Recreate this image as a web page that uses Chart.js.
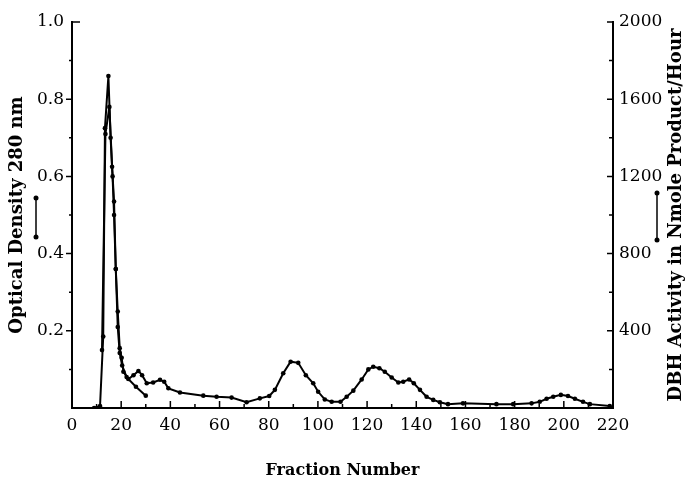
<!DOCTYPE html>
<html lang="en">
<head>
    <meta charset="UTF-8">
    <title>Fraction elution profile</title>
    <script src="https://cdn.jsdelivr.net/npm/chart.js"></script>
    <style>
        html, body { margin: 0; padding: 0; background: #fff; }
        canvas { display: block; }
    </style>
</head>
<body>
    <canvas id="elutionChart" width="687" height="488"></canvas>

    <script>
        // Optical density at 280 nm (long trace)
        const odFractions = [9, 11.4, 12.7, 13.4, 14.8, 15.7, 16.5, 17.1, 17.8, 18.6, 19.4, 20.2, 20.9, 22.9, 25, 27, 28.5, 30.4, 33, 35.8, 37.5, 39.2, 43.9, 53.4, 58.8, 64.9, 71, 76.4, 80.2, 82.5, 85.9, 88.9, 92, 95.1, 98.1, 100.1, 102.8, 105.6, 109.2, 111.7, 114.4, 117.8, 120.5, 122.5, 125, 127.2, 130, 132.7, 134.7, 137.1, 139, 141.5, 144.2, 146.9, 149.6, 152.9, 159, 172.6, 179.4, 186.9, 190.2, 193, 195.7, 198.8, 201.7, 204.5, 207.8, 210.6, 218.7];
        const odValues = [0, 0.005, 0.185, 0.725, 0.86, 0.70, 0.60, 0.50, 0.36, 0.25, 0.155, 0.13, 0.094, 0.075, 0.085, 0.096, 0.085, 0.064, 0.066, 0.073, 0.068, 0.051, 0.04, 0.032, 0.029, 0.027, 0.015, 0.025, 0.031, 0.047, 0.09, 0.12, 0.117, 0.085, 0.064, 0.042, 0.022, 0.016, 0.016, 0.029, 0.045, 0.074, 0.1, 0.107, 0.103, 0.094, 0.079, 0.066, 0.068, 0.074, 0.064, 0.047, 0.029, 0.021, 0.015, 0.01, 0.012, 0.01, 0.01, 0.012, 0.016, 0.024, 0.029, 0.034, 0.031, 0.024, 0.016, 0.01, 0.005];

        // DBH activity, nmole product / hour (short trace)
        const dbhFractions = [12.2, 13.6, 15.2, 16.3, 17.1, 17.8, 18.6, 19.4, 20.4, 22.2, 26.0, 30.0];
        const dbhValues = [300, 1420, 1560, 1250, 1070, 720, 420, 285, 220, 160, 110, 64];

        const xTicks = [0, 20, 40, 60, 80, 100, 120, 140, 160, 180, 200, 220];
        const odTicks = [0.2, 0.4, 0.6, 0.8, 1.0];
        const dbhTicks = [400, 800, 1200, 1600, 2000];

        const serif = "'DejaVu Serif', 'Liberation Serif', serif";

        // small tick marks, legend glyphs next to the axis titles, right title
        const decorPlugin = {
            id: 'decor',
            afterDraw(chart) {
                const { ctx, chartArea, scales } = chart;
                const { x, y, y2 } = scales;
                ctx.save();
                ctx.strokeStyle = '#000';
                ctx.fillStyle = '#000';
                ctx.lineWidth = 1.5;

                ctx.beginPath();
                for (let v = 10; v < 220; v += 10) {
                    const px = x.getPixelForValue(v);
                    const len = v % 20 === 0 ? 7 : 4;
                    ctx.moveTo(px, chartArea.bottom);
                    ctx.lineTo(px, chartArea.bottom - len);
                }
                for (let i = 1; i < 10; i++) {
                    const py = y.getPixelForValue(i / 10);
                    const len = i % 2 === 0 ? 6 : 3;
                    ctx.moveTo(chartArea.left - len, py);
                    ctx.lineTo(chartArea.left, py);
                }
                const topPx = y.getPixelForValue(1.0);
                ctx.moveTo(chartArea.left, topPx);
                ctx.lineTo(chartArea.left + 8, topPx);
                for (let v = 200; v <= 2000; v += 200) {
                    const py = y2.getPixelForValue(v);
                    const len = v % 400 === 0 ? 6 : 4;
                    ctx.moveTo(chartArea.right - len, py);
                    ctx.lineTo(chartArea.right, py);
                }
                ctx.stroke();

                // legend glyphs: a short line with a dot at each end
                const glyph = (gx, gy1, gy2) => {
                    ctx.beginPath();
                    ctx.moveTo(gx, gy1);
                    ctx.lineTo(gx, gy2);
                    ctx.stroke();
                    [gy1, gy2].forEach(gy => {
                        ctx.beginPath();
                        ctx.arc(gx, gy, 2.5, 0, Math.PI * 2);
                        ctx.fill();
                    });
                };
                glyph(36, 198, 237);
                glyph(657, 193, 240);

                // right axis title reads bottom to top like the left one
                ctx.font = "bold 18px " + serif;
                ctx.textAlign = 'center';
                ctx.textBaseline = 'middle';
                ctx.translate(676, (chartArea.top + chartArea.bottom) / 2);
                ctx.rotate(-Math.PI / 2);
                ctx.fillText('DBH Activity in Nmole Product/Hour', 0, 0);
                ctx.restore();
            }
        };

        const axisBorder = { display: true, color: '#000', width: 2 };
        const noGrid = { drawOnChartArea: false, drawTicks: false, color: 'transparent' };

        new Chart(document.getElementById('elutionChart'), {
            type: 'line',
            data: {
                datasets: [
                    {
                        label: 'Optical Density 280 nm',
                        data: odFractions.map((f, i) => ({ x: f, y: odValues[i] })),
                        yAxisID: 'y',
                        borderColor: '#000',
                        backgroundColor: '#000',
                        borderWidth: 2,
                        pointRadius: 2.3,
                        pointBorderWidth: 0,
                        tension: 0
                    },
                    {
                        label: 'DBH Activity',
                        data: dbhFractions.map((f, i) => ({ x: f, y: dbhValues[i] })),
                        yAxisID: 'y2',
                        borderColor: '#000',
                        backgroundColor: '#000',
                        borderWidth: 2,
                        pointRadius: 2.3,
                        pointBorderWidth: 0,
                        tension: 0
                    }
                ]
            },
            options: {
                responsive: false,
                animation: false,
                devicePixelRatio: 1,
                layout: { padding: { top: 22, right: 0, bottom: 0, left: 0 } },
                plugins: {
                    legend: { display: false },
                    tooltip: { enabled: false }
                },
                scales: {
                    x: {
                        type: 'linear',
                        min: 0,
                        max: 220,
                        afterFit: s => { s.height = 80; },
                        afterBuildTicks: s => { s.ticks = xTicks.map(v => ({ value: v })); },
                        ticks: { color: '#000', font: { family: serif, size: 17 }, padding: 7, maxRotation: 0, callback: v => String(v) },
                        grid: noGrid,
                        border: axisBorder,
                        title: {
                            display: true,
                            text: 'Fraction Number',
                            color: '#000',
                            font: { family: serif, size: 16, weight: 'bold' },
                            padding: { top: 0, bottom: 8 }
                        }
                    },
                    y: {
                        position: 'left',
                        min: 0,
                        max: 1.0,
                        afterFit: s => { s.width = 72; },
                        afterBuildTicks: s => { s.ticks = odTicks.map(v => ({ value: v })); },
                        ticks: { color: '#000', font: { family: serif, size: 17 }, padding: 8, callback: v => v.toFixed(1) },
                        grid: noGrid,
                        border: axisBorder,
                        title: {
                            display: true,
                            text: 'Optical Density 280 nm',
                            color: '#000',
                            font: { family: serif, size: 18, weight: 'bold' },
                            padding: { top: 7, bottom: 0 }
                        }
                    },
                    y2: {
                        position: 'right',
                        min: 0,
                        max: 2000,
                        afterFit: s => { s.width = 74; },
                        afterBuildTicks: s => { s.ticks = dbhTicks.map(v => ({ value: v })); },
                        ticks: { color: '#000', font: { family: serif, size: 17 }, padding: 6, callback: v => String(v) },
                        grid: noGrid,
                        border: axisBorder
                    }
                }
            },
            plugins: [decorPlugin]
        });
    </script>
</body>
</html>
